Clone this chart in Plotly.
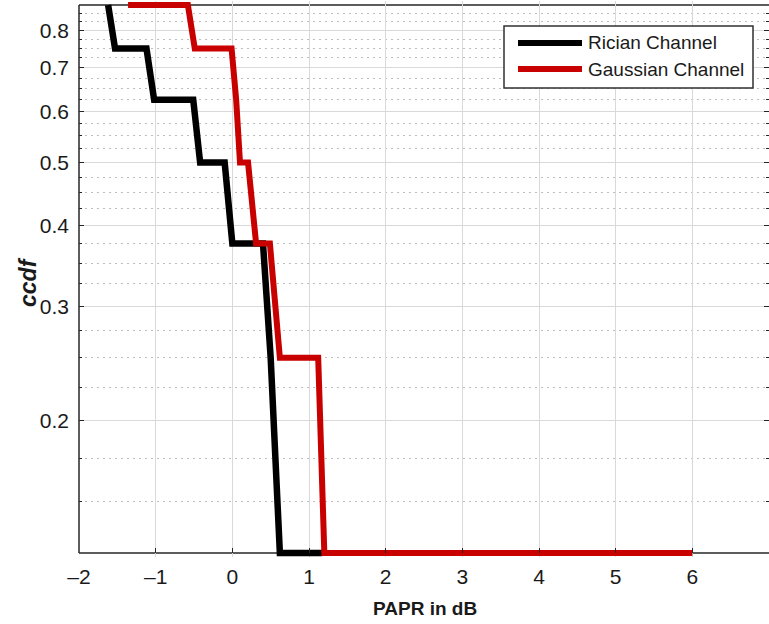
import math
import plotly.graph_objects as go

# ---------------- data ----------------
rician_x = [-1.62, -1.53, -1.12, -1.02, -0.51, -0.42, -0.10, 0.0, 0.40, 0.50, 0.62, 1.17]
rician_y = [0.875, 0.75, 0.75, 0.625, 0.625, 0.5, 0.5, 0.375, 0.375, 0.25, 0.125, 0.125]

gauss_x = [-1.36, -0.58, -0.49, -0.01, 0.05, 0.10, 0.205, 0.31, 0.49, 0.62, 1.12, 1.20, 6.0]
gauss_y = [0.875, 0.875, 0.75, 0.75, 0.625, 0.5, 0.5, 0.375, 0.375, 0.25, 0.25, 0.125, 0.125]

x_tickvals = [-2, -1, 0, 1, 2, 3, 4, 5, 6, 7]
x_ticktext = ["\u20132", "\u20131", "0", "1", "2", "3", "4", "5", "6", "7"]
y_tickvals = [0.2, 0.3, 0.4, 0.5, 0.6, 0.7, 0.8]
y_ticktext = ["0.2", "0.3", "0.4", "0.5", "0.6", "0.7", "0.8"]
y_minorvals = [0.15, 0.175, 0.225, 0.25, 0.275, 0.325, 0.35, 0.375, 0.425, 0.45, 0.475,
               0.525, 0.55, 0.575, 0.625, 0.65, 0.675, 0.725, 0.75, 0.775, 0.825, 0.85]
series_names = ["Rician Channel", "Gaussian Channel"]
series_colors = ["#000000", "#c80000"]

x_range = [-2, 7]
y_bounds = [0.125, 0.875]

# ---------------- layout geometry ----------------
W, H = 769, 624
ML, MR, MT, MB = 79, 0, 1, 67
PW, PH = W - ML - MR, H - MT - MB
E = 4  # px of extra room above/below the box so thick lines are not clipped
box_px = PH - 2 * E
dec = math.log10(y_bounds[1]) - math.log10(y_bounds[0])
pad = E * dec / box_px
y_range = [math.log10(y_bounds[0]) - pad, math.log10(y_bounds[1]) + pad]

def pxx(x):
    return (x - ML) / PW

def pxy(y):
    return (MT + PH - y) / PH

FONT = "Liberation Sans, Arial, Helvetica, sans-serif"
AX = "#262626"
TXT = "#1a1a1a"

fig = go.Figure()
fig.add_trace(go.Scatter(x=rician_x, y=rician_y, mode="lines", name=series_names[0],
                         line=dict(color=series_colors[0], width=6.5), showlegend=False))
fig.add_trace(go.Scatter(x=gauss_x, y=gauss_y, mode="lines", name=series_names[1],
                         line=dict(color=series_colors[1], width=6), showlegend=False))

shapes = []
# masks for extra room (cover grid lines outside the box)
shapes.append(dict(type="rect", xref="paper", yref="paper", x0=0, x1=1, y0=0, y1=E / PH,
                   fillcolor="white", line=dict(width=0), layer="between"))
shapes.append(dict(type="rect", xref="paper", yref="paper", x0=0, x1=1, y0=1 - E / PH, y1=1,
                   fillcolor="white", line=dict(width=0), layer="between"))
# box lines
for yv in y_bounds:
    shapes.append(dict(type="line", xref="paper", yref="y", x0=0, x1=1, y0=yv, y1=yv,
                       line=dict(color=AX, width=1.5), layer="between"))
shapes.append(dict(type="line", xref="paper", yref="y", x0=0, x1=0, y0=y_bounds[0], y1=y_bounds[1],
                   line=dict(color=AX, width=1.5), layer="between"))

# manual legend
lx0, lx1, ly0, ly1 = 504, 753, 26, 88
shapes.append(dict(type="rect", xref="paper", yref="paper", x0=pxx(lx0), x1=pxx(lx1),
                   y0=pxy(ly1), y1=pxy(ly0), fillcolor="white",
                   line=dict(color="#303030", width=1.5), layer="above"))
annotations = []
for i, (nm, col) in enumerate(zip(series_names, series_colors)):
    yy = 43 + 26 * i
    shapes.append(dict(type="line", xref="paper", yref="paper", x0=pxx(518), x1=pxx(582),
                       y0=pxy(yy), y1=pxy(yy), line=dict(color=col, width=6), layer="above"))
    annotations.append(dict(text=nm, xref="paper", yref="paper", x=pxx(586), y=pxy(yy),
                            xanchor="left", yanchor="middle", showarrow=False,
                            font=dict(family=FONT, size=19, color=TXT)))

annotations.append(dict(text="<b>PAPR in dB</b>", xref="paper", yref="paper",
                        x=pxx(425), y=pxy(608), xanchor="center", yanchor="middle",
                        showarrow=False, font=dict(family=FONT, size=19, color=TXT)))
annotations.append(dict(text="<b><i>ccdf</i></b>", xref="paper", yref="paper",
                        x=pxx(28), y=pxy(282), xanchor="center", yanchor="middle",
                        textangle=-90, showarrow=False,
                        font=dict(family=FONT, size=23, color=TXT)))

fig.update_layout(
    width=W, height=H, autosize=False,
    margin=dict(l=ML, r=MR, t=MT, b=MB, pad=0),
    paper_bgcolor="white", plot_bgcolor="white",
    showlegend=False,
    font=dict(family=FONT, size=21, color=TXT),
    shapes=shapes, annotations=annotations,
    xaxis=dict(range=x_range, tickmode="array", tickvals=x_tickvals, ticktext=x_ticktext,
               showgrid=True, gridcolor="#d9d9d9", gridwidth=1, zeroline=False,
               showline=False, ticks="inside", ticklen=5, tickcolor=AX, tickwidth=1.2,
               anchor="free", position=E / PH, ticklabelstandoff=9,
               tickfont=dict(family=FONT, size=21, color=TXT)),
    yaxis=dict(type="log", range=y_range, tickmode="array", tickvals=y_tickvals,
               ticktext=y_ticktext, showgrid=True, gridcolor="#d9d9d9", gridwidth=1,
               zeroline=False, showline=False, ticks="inside", ticklen=5, tickcolor=AX,
               tickwidth=1.2, mirror="ticks", ticklabelstandoff=9,
               tickfont=dict(family=FONT, size=21, color=TXT),
               minor=dict(tickmode="array", tickvals=y_minorvals, showgrid=True,
                          gridcolor="#bdbdbd", griddash="2px,4px", gridwidth=1,
                          ticks="inside", ticklen=3, tickcolor=AX)),
)

fig.write_html("out.html")
